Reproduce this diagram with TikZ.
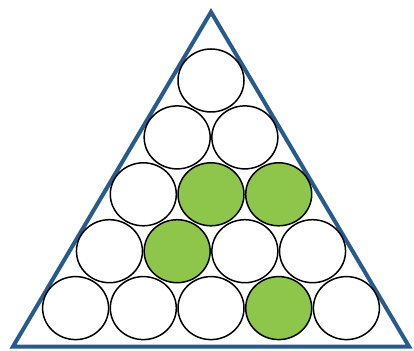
\documentclass[tikz,border=0pt]{standalone}
\usepackage{tikz}
\usetikzlibrary{shapes.geometric}
\usepackage{xcolor}

\definecolor{frameblue}{RGB}{40,90,140}
\definecolor{leafgreen}{RGB}{141,198,74}

\begin{document}
\begin{tikzpicture}[x=1pt,y=1pt,
  frame/.style={draw=frameblue, line width=4pt, line join=miter},
  ball/.style={ellipse, draw=black, line width=1.5pt, minimum width=66pt, minimum height=63pt, inner sep=0pt}]
\useasboundingbox (0,0) rectangle (414,350);
% outer triangle
\coordinate (tl) at (13,3.5);
\coordinate (tt) at (211,338);
\coordinate (tr) at (409,3.5);
\draw[frame] (tl) -- (tt) -- (tr) -- cycle;
% rows of balls, top to bottom
\foreach \r/\row in {1/{white}, 2/{white,white}, 3/{white,leafgreen,leafgreen}, 4/{white,leafgreen,white,white}, 5/{white,white,white,leafgreen,white}} {
  \foreach \f [count=\k] in \row {
    \node[ball, fill=\f] (b\r\k) at ({211+(\k-(\r+1)/2)*67.7}, {269.5-(\r-1)*56.9}) {};
  }
}
\end{tikzpicture}
\end{document}
